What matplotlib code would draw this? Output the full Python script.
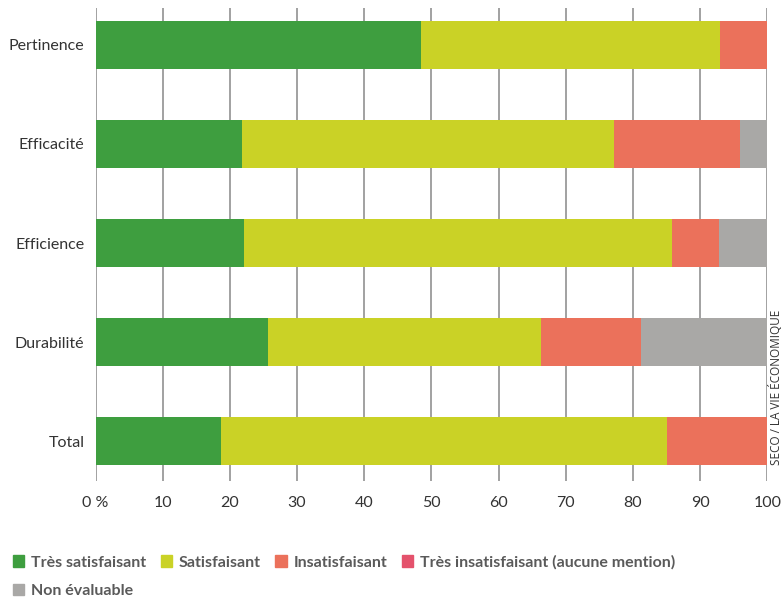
import matplotlib.pyplot as plt
from matplotlib.patches import Patch

categories = ["Pertinence", "Efficacité", "Efficience", "Durabilité", "Total"]
series = ["Très satisfaisant", "Satisfaisant", "Insatisfaisant",
          "Très insatisfaisant (aucune mention)", "Non évaluable"]
tres_satisfaisant = [48.4, 21.8, 22.1, 25.7, 18.7]
satisfaisant = [44.5, 55.4, 63.7, 40.6, 66.3]
insatisfaisant = [7.1, 18.7, 7.0, 14.9, 15.0]
tres_insatisfaisant = [0, 0, 0, 0, 0]
non_evaluable = [0, 4.1, 7.2, 18.8, 0]
ticks = [0, 10, 20, 30, 40, 50, 60, 70, 80, 90, 100]
tick_labels = ["0 %", "10", "20", "30", "40", "50", "60", "70", "80", "90", "100"]

colors = ["#3e9e3f", "#cad226", "#eb715b", "#e4526c", "#a9a8a6"]

plt.rcParams['font.family'] = ['Lato', 'DejaVu Sans']

fig = plt.figure(figsize=(7.83, 5.99), dpi=100)
ax = fig.add_axes([0.122, 0.197, 0.858, 0.790])

values = [tres_satisfaisant, satisfaisant, insatisfaisant, tres_insatisfaisant, non_evaluable]
y = list(range(len(categories)))
left = [0.0] * len(categories)
for vals, col, name in zip(values, colors, series):
    ax.barh(y, vals, left=left, height=0.485, color=col, label=name, zorder=2)
    left = [l + v for l, v in zip(left, vals)]

ax.set_xlim(0, 100)
ax.set_ylim(4.40, -0.373)
ax.set_yticks(y)
ax.set_yticklabels(categories, fontsize=11.5, color="#333333")
ax.set_xticks(ticks)
ax.set_xticklabels(tick_labels, fontsize=11.5, color="#333333")
ax.tick_params(axis='y', length=0, pad=8)
ax.tick_params(axis='x', length=0, pad=11)
for t in ticks:
    ax.axvline(t, color="#9a9a9a", lw=1.3, zorder=1)
for s in ax.spines.values():
    s.set_visible(False)

handles = [Patch(color=c) for c in colors]
legend_font = {'family': ['Lato', 'DejaVu Sans'], 'weight': 'bold', 'size': 11.5}
leg1 = fig.legend(handles[:4], series[:4], loc='lower left', bbox_to_anchor=(-0.002, 0.025),
                  ncol=4, frameon=False, handlelength=0.7, handleheight=0.7,
                  handletextpad=0.45, columnspacing=0.9, prop=legend_font)
leg2 = fig.legend(handles[4:], series[4:], loc='lower left', bbox_to_anchor=(-0.002, -0.022),
                  ncol=1, frameon=False, handlelength=0.7, handleheight=0.7,
                  handletextpad=0.45, prop=legend_font)
for leg in (leg1, leg2):
    for txt in leg.get_texts():
        txt.set_color("#5a5a5a")

fig.text(0.991, 0.354, "SECO / LA VIE ÉCONOMIQUE", rotation=90, fontsize=8.5,
         color="#333333", ha='center', va='center', family=['Open Sans', 'DejaVu Sans'])

fig.savefig("out.png", dpi=100)
